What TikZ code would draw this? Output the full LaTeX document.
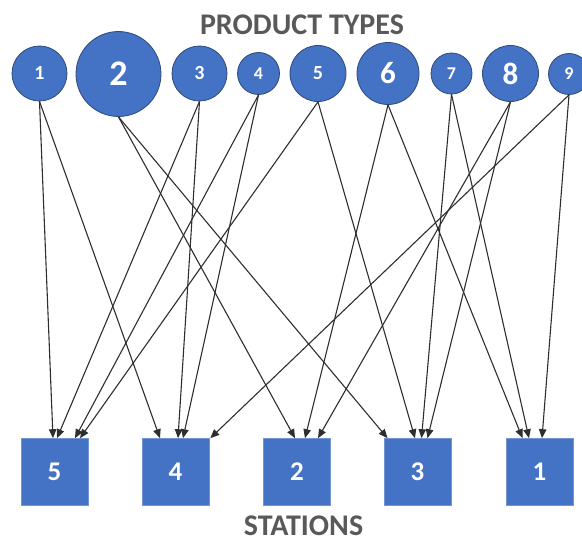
\documentclass[tikz,border=0pt]{standalone}
\usepackage{fontspec}
\setmainfont{Carlito}
\usetikzlibrary{arrows.meta}
\definecolor{nodeblue}{HTML}{4472C4}
\definecolor{rimblue}{HTML}{2F4A7A}
\definecolor{titlegray}{HTML}{595959}
\definecolor{wire}{HTML}{2E2E2E}
\newcommand{\numfont}[1]{\bfseries\fontsize{#1}{#1}\selectfont}

\begin{document}
\begin{tikzpicture}[x=1pt,y=-1pt,
  product/.style={circle, fill=nodeblue, draw=rimblue, line width=0.8pt,
                  inner sep=0pt, minimum size=#1, text=white},
  station/.style={rectangle, fill=nodeblue, draw=nodeblue!75!white, line width=0.6pt,
                  minimum size=67pt, inner sep=0pt, text=white, font=\numfont{27}},
  heading/.style={text=titlegray, inner sep=0pt, font=\numfont{30}},
  link/.style={draw=wire, line width=1.1pt, -{Triangle[length=9pt,width=7.5pt]}}
]
\useasboundingbox (0,0) rectangle (582,543);
\clip (0,0) rectangle (582,543);

% headings
\node[heading] (top) at (302,25) {PRODUCT TYPES};
\node[heading] (bottom) at (303.5,526) {STATIONS};

% product types
\node[product=55pt, font=\numfont{20}] (p1) at (39.5,73.5) {1};
\node[product=85pt, font=\numfont{36}] (p2) at (118.5,74) {2};
\node[product=55pt, font=\numfont{20}] (p3) at (199.5,73.5) {3};
\node[product=42pt, font=\numfont{18}] (p4) at (258.5,73.5) {4};
\node[product=56pt, font=\numfont{20}] (p5) at (318,73.5) {5};
\node[product=62pt, font=\numfont{31}] (p6) at (388,73.5) {6};
\node[product=41pt, font=\numfont{18}] (p7) at (451.5,73.5) {7};
\node[product=56pt, font=\numfont{31}] (p8) at (510.5,73.5) {8};
\node[product=41pt, font=\numfont{18}] (p9) at (569,74) {9};

% stations
\node[station] (s5) at (54.5,472) {5};
\node[station] (s4) at (175.5,472) {4};
\node[station] (s2) at (297,472) {2};
\node[station] (s3) at (417.5,472) {3};
\node[station] (s1) at (539.5,472) {1};

% routings
\draw[link] (p1.south) -- ([xshift=-1.5pt]s5.north);
\draw[link] (p1.south) -- ([xshift=-15.5pt]s4.north);
\draw[link] (p2.south) -- ([xshift=-2pt]s2.north);
\draw[link] (p2.south) -- ([xshift=-30pt]s3.north);
\draw[link] (p3.south) -- ([xshift=2.5pt]s5.north);
\draw[link] (p3.south) -- ([xshift=2.5pt]s4.north);
\draw[link] (p4.south) -- ([xshift=20.5pt]s5.north);
\draw[link] (p4.south) -- ([xshift=7.5pt]s4.north);
\draw[link] (p5.south) -- ([xshift=25.5pt]s5.north);
\draw[link] (p5.south) -- ([xshift=-2.5pt]s3.north);
\draw[link] (p6.south) -- ([xshift=8pt]s2.north);
\draw[link] (p6.south) -- ([xshift=-17pt]s1.north);
\draw[link] (p7.south) -- ([xshift=4pt]s3.north);
\draw[link] (p7.south) -- ([xshift=-10.5pt]s1.north);
\draw[link] (p8.south) -- ([xshift=21pt]s2.north);
\draw[link] (p8.south) -- ([xshift=10pt]s3.north);
\draw[link] (p9.south) -- ([xshift=1pt]s4.north east);
\draw[link] (p9.south) -- ([xshift=2.5pt]s1.north);
\end{tikzpicture}
\end{document}
